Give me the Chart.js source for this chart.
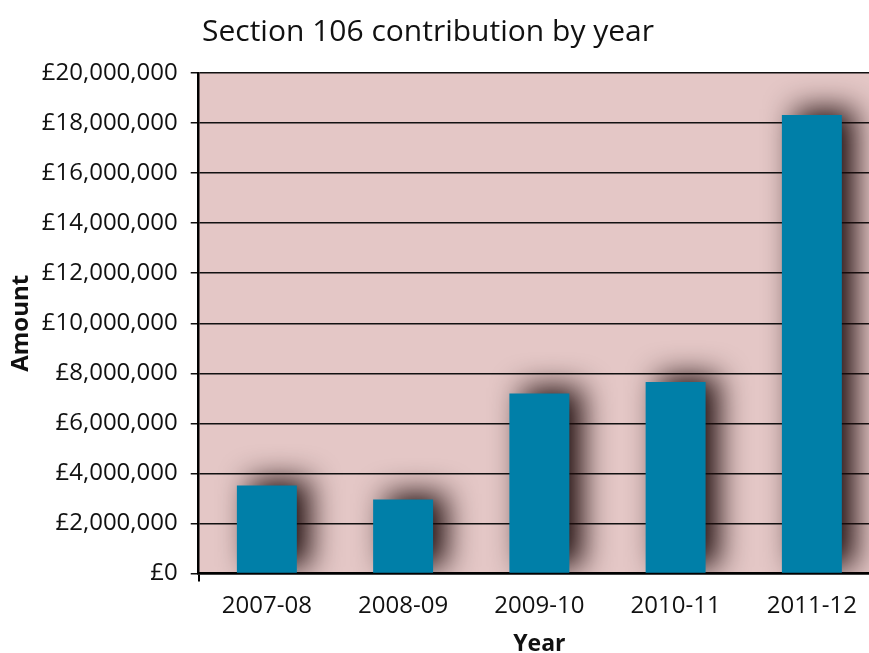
<!DOCTYPE html>
<html>
<head>
<meta charset="utf-8">
<script src="https://cdn.jsdelivr.net/npm/chart.js@4/dist/chart.umd.min.js"></script>
<style>
    html, body { margin: 0; padding: 0; background: #fff; overflow: hidden; }
    #wrap { width: 890px; height: 653px; }
</style>
</head>
<body>
<div id="wrap"><canvas id="graficoS106" width="890" height="653"></canvas></div>
<script>
// Datos del gráfico
const years = ['2007-08', '2008-09', '2009-10', '2010-11', '2011-12'];
const amounts = [3520000, 2960000, 7200000, 7650000, 18320000];
const yTicks = [0, 2000000, 4000000, 6000000, 8000000, 10000000, 12000000, 14000000, 16000000, 18000000, 20000000];
const chartTitle = 'Section 106 contribution by year';

const fuente = "'Open Sans', 'Noto Sans', sans-serif";

// Fondo rosado del área del gráfico
const fondoArea = {
    id: 'fondoArea',
    beforeDraw(chart) {
        const { ctx, chartArea } = chart;
        ctx.save();
        ctx.fillStyle = '#e4c7c6';
        ctx.fillRect(chartArea.left, chartArea.top, chartArea.right - chartArea.left, chartArea.bottom - chartArea.top);
        ctx.restore();
    }
};

// Sombra detrás de las barras
const sombraBarras = {
    id: 'sombraBarras',
    beforeDatasetsDraw(chart) {
        const ctx = chart.ctx;
        ctx.save();
        ctx.shadowColor = 'rgba(30, 12, 12, 1)';
        ctx.shadowBlur = 30;
        ctx.shadowOffsetX = 13;
        ctx.shadowOffsetY = -6;
    },
    afterDatasetsDraw(chart) {
        chart.ctx.restore();
    }
};

// Título (no centrado sobre el lienzo completo)
const tituloPlugin = {
    id: 'tituloPlugin',
    afterDraw(chart) {
        const ctx = chart.ctx;
        ctx.save();
        ctx.fillStyle = '#111';
        ctx.font = '30px ' + fuente;
        ctx.textAlign = 'center';
        ctx.textBaseline = 'middle';
        ctx.fillText(chartTitle, 428, 32);
        ctx.restore();
    }
};

const ctx = document.getElementById('graficoS106').getContext('2d');
const grafico = new Chart(ctx, {
    type: 'bar',
    data: {
        labels: years,
        datasets: [{
            label: 'Amount',
            data: amounts,
            backgroundColor: '#007fa8',
            barPercentage: 0.44,
            categoryPercentage: 1.0
        }]
    },
    options: {
        responsive: false,
        animation: false,
        layout: { padding: { top: 73, left: 1, right: 10, bottom: -5 } },
        plugins: {
            legend: { display: false },
            tooltip: { enabled: false }
        },
        scales: {
            x: {
                grid: {
                    display: true,
                    drawOnChartArea: false,
                    tickLength: 8,
                    lineWidth: 2,
                    color: (c) => c.index === 0 ? '#000' : 'rgba(0,0,0,0)'
                },
                border: { color: '#000', width: 2.5 },
                ticks: {
                    color: '#111',
                    padding: 10,
                    font: { family: fuente, size: 24 }
                },
                title: {
                    display: true,
                    text: 'Year',
                    color: '#111',
                    padding: { top: 0, bottom: 0 },
                    font: { family: fuente, size: 23, weight: 'bold' }
                }
            },
            y: {
                min: 0,
                max: 20000000,
                afterBuildTicks: (axis) => { axis.ticks = yTicks.map(v => ({ value: v })); },
                grid: {
                    color: '#111',
                    lineWidth: 1.5,
                    tickLength: 8
                },
                border: { color: '#000', width: 2.5 },
                ticks: {
                    color: '#111',
                    padding: 13,
                    font: { family: fuente, size: 24 },
                    callback: (v) => '£' + Number(v).toLocaleString('en-GB')
                },
                title: {
                    display: true,
                    text: 'Amount',
                    color: '#111',
                    padding: { top: 6, bottom: -7 },
                    font: { family: fuente, size: 24, weight: 'bold' }
                }
            }
        }
    },
    plugins: [fondoArea, sombraBarras, tituloPlugin]
});
</script>
</body>
</html>
